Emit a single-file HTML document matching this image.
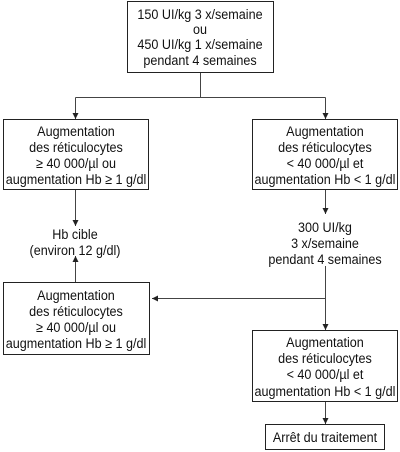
<!DOCTYPE html>
<html><head><meta charset="utf-8"><style>
html,body{margin:0;padding:0;background:#fff;}
svg{display:block;}
text{font-family:"Liberation Sans Narrow","Liberation Sans",sans-serif;font-size:14px;fill:#111;text-anchor:middle;transform-box:fill-box;transform-origin:center;transform:scaleX(0.9);}
rect{fill:#fff;stroke:#222;stroke-width:1;}
line{stroke:#444;stroke-width:1;}
</style></head><body>
<svg width="400" height="452" viewBox="0 0 400 452">
<defs><marker id="ar" viewBox="0 0 6 8" refX="6" refY="4" markerWidth="6" markerHeight="8" orient="auto" markerUnits="userSpaceOnUse"><path d="M0,1 L6,4 L0,7 z" fill="#222"/></marker></defs>

<g>
<rect x="127.5" y="1.5" width="146" height="71"/>
<text x="200" y="19">150 UI/kg 3 x/semaine</text>
<text x="200" y="34">ou</text>
<text x="200" y="49">450 UI/kg 1 x/semaine</text>
<text x="200" y="65">pendant 4 semaines</text>
</g>

<g>
<line x1="200.5" y1="73" x2="200.5" y2="97.5"/>
<line x1="75.5" y1="97.5" x2="325.5" y2="97.5"/>
<line x1="75.5" y1="97.5" x2="75.5" y2="119" marker-end="url(#ar)"/>
<line x1="325.5" y1="97.5" x2="325.5" y2="119" marker-end="url(#ar)"/>
<line x1="75.5" y1="190" x2="75.5" y2="226" marker-end="url(#ar)"/>
<line x1="75.5" y1="282" x2="75.5" y2="256" marker-end="url(#ar)"/>
<line x1="325.5" y1="190" x2="325.5" y2="214" marker-end="url(#ar)"/>
<line x1="325.5" y1="266" x2="325.5" y2="330" marker-end="url(#ar)"/>
<line x1="325.5" y1="298.5" x2="152" y2="298.5" marker-end="url(#ar)"/>
<line x1="325.5" y1="402" x2="325.5" y2="424" marker-end="url(#ar)"/>
</g>

<g>
<rect x="3.5" y="119.5" width="145" height="70"/>
<text x="76" y="136">Augmentation</text>
<text x="76" y="152">des réticulocytes</text>
<text x="76" y="168">≥ 40 000/µl ou</text>
<text x="76" y="184">augmentation Hb ≥ 1 g/dl</text>
</g>

<g>
<rect x="252.5" y="119.5" width="145" height="70"/>
<text x="325" y="136">Augmentation</text>
<text x="325" y="152">des réticulocytes</text>
<text x="325" y="168">&lt; 40 000/µl et</text>
<text x="325" y="184">augmentation Hb &lt; 1 g/dl</text>
</g>

<g>
<text x="75" y="239">Hb cible</text>
<text x="75" y="255">(environ 12 g/dl)</text>
</g>

<g>
<text x="325" y="232">300 UI/kg</text>
<text x="325" y="248">3 x/semaine</text>
<text x="325" y="264">pendant 4 semaines</text>
</g>

<g>
<rect x="3.5" y="282.5" width="146" height="72"/>
<text x="76" y="300">Augmentation</text>
<text x="76" y="316">des réticulocytes</text>
<text x="76" y="332">≥ 40 000/µl ou</text>
<text x="76" y="348">augmentation Hb ≥ 1 g/dl</text>
</g>

<g>
<rect x="252.5" y="330.5" width="145" height="71"/>
<text x="325" y="347">Augmentation</text>
<text x="325" y="363">des réticulocytes</text>
<text x="325" y="379">&lt; 40 000/µl et</text>
<text x="325" y="396">augmentation Hb &lt; 1 g/dl</text>
</g>

<g>
<rect x="265.5" y="424.5" width="119" height="25"/>
<text x="325" y="442">Arrêt du traitement</text>
</g>
</svg>
</body></html>
